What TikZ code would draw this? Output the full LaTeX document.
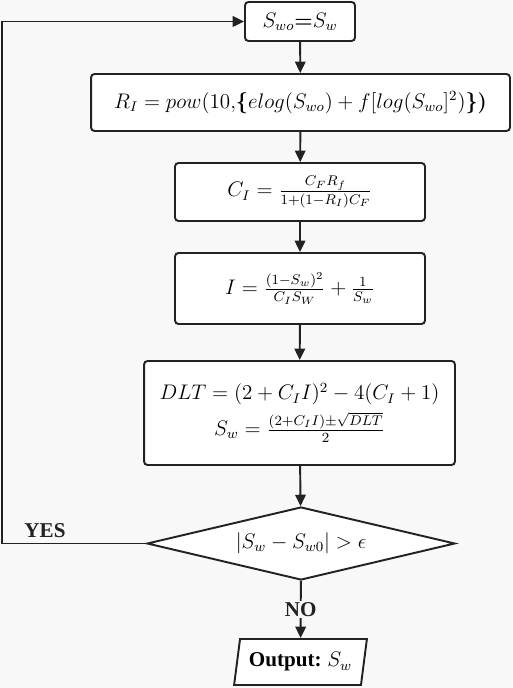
\documentclass[tikz,border=0pt]{standalone}
\usepackage{fontspec}
\newfontfamily\tnr{Liberation Serif}
\usepackage{xcolor}
\definecolor{ink}{RGB}{34,34,34}
\definecolor{paper}{RGB}{248,248,248}
\usepackage{tikz}
\usetikzlibrary{
    shapes.geometric,
    arrows.meta,
    positioning,
    calc
}
\usepackage{amsmath, amssymb}

\begin{document}
\begin{tikzpicture}[
        x=0.02cm, y=-0.02cm,
        >={Triangle[length=6.5pt, width=6pt]},
        stepbox/.style={rectangle, rounded corners=2pt, draw=ink, line width=1.1pt, fill=white, inner sep=0pt, font=\large, align=center},
        check/.style={diamond, aspect=4.2, draw=ink, line width=1.1pt, fill=white, inner sep=0pt, minimum width=6.16cm, minimum height=1.46cm, font=\large},
        io/.style={trapezium, trapezium left angle=75, trapezium right angle=105, trapezium stretches=true, draw=ink, line width=1.1pt, fill=white, minimum width=2.66cm, minimum height=0.92cm, inner sep=0pt},
        lbl/.style={font=\tnr\bfseries\large, text=ink, fill=paper, inner sep=1pt}
    ]
        \fill[paper] (0,0) rectangle (512,688);
        \useasboundingbox (0,0) rectangle (512,688);

        \node[stepbox, minimum width=2.2cm, minimum height=0.78cm] (init) at (300,21.5) {$S_{wo}$\textbf{=}$S_w$};
        \node[stepbox, minimum width=8.38cm, minimum height=1.14cm] (ri) at (300.5,102.5) {$R_I = pow(10,$\textbf{\{}$elog(S_{wo}) + f[log(S_{wo}]^2)$\textbf{\})}};
        \node[stepbox, minimum width=5cm, minimum height=1.16cm] (ci) at (300,192) {$C_I = \frac{C_F R_f}{1+(1-R_I)C_F}$};
        \node[stepbox, minimum width=5cm, minimum height=1.42cm] (ii) at (300,288.5) {$I = \frac{(1-S_w)^2}{C_I S_W} + \frac{1}{S_w}$};
        \node[stepbox, minimum width=6.22cm, minimum height=2.08cm] (dlt) at (299.5,413) {$DLT = (2+C_I I)^2 - 4(C_I+1)$\\[3pt] $S_w = \frac{(2+C_I I)\pm\sqrt{DLT}}{2}$};

        \node[check] (cond) at (301,543.5) {$|S_w - S_{w0}| > \epsilon$};
        \node[io] (out) at (300.5,662) {{\tnr\bfseries\large Output:}\,\,{\large$S_w$}};

        \coordinate (back) at (2,543.5);

        \draw[->, line width=1.1pt, ink] (init) -- (ri);
        \draw[->, line width=1.1pt, ink] (ri) -- (ci);
        \draw[->, line width=1.1pt, ink] (ci) -- (ii);
        \draw[->, line width=1.1pt, ink] (ii) -- (dlt);
        \draw[->, line width=1.1pt, ink] (dlt) -- (cond);
        \draw[->, line width=1.1pt, ink] (cond) -- node[lbl] {NO} (out);
        \draw[->, line width=1.1pt, ink] (cond.west) -- (back) |- (init.west);

        \node[lbl, anchor=south] (yes) at (45,540) {YES};
    \end{tikzpicture}
\end{document}
